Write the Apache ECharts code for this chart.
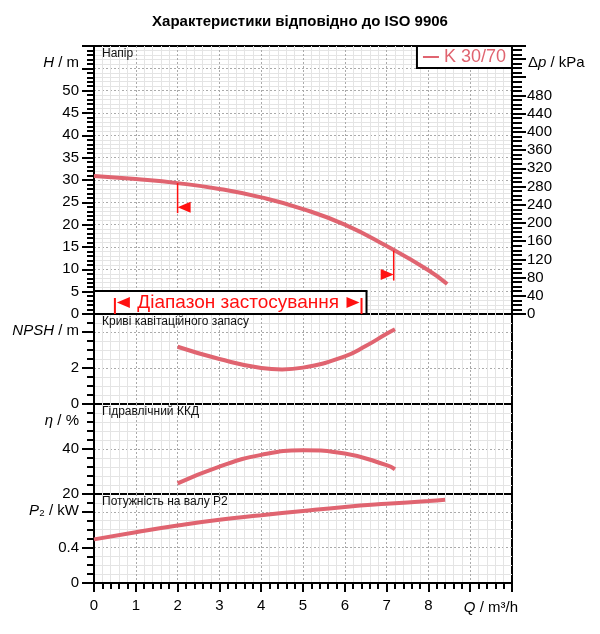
<!DOCTYPE html>
<html>
<head>
<meta charset="utf-8">
<script src="https://cdn.jsdelivr.net/npm/echarts@6/dist/echarts.min.js"></script>
<style>
  html, body { margin: 0; padding: 0; background: #fff; }
  #chart { width: 600px; height: 634px; }
</style>
</head>
<body>
<div id="chart"></div>
<script>
// flow Q / m3/h for each curve
var headQ = [0, 1, 2, 3, 4, 5, 6, 7, 8, 8.45];
var head = [30.9, 30.2, 29.3, 28.0, 26.1, 23.5, 20.0, 15.2, 9.8, 6.7];

var npshQ = [2, 3, 4, 4.5, 5, 6, 6.5, 7, 7.2];
var npsh = [3.18, 2.5, 2.0, 1.92, 2.02, 2.65, 3.22, 3.9, 4.15];

var effQ = [2, 3, 4, 5, 6, 7, 7.2];
var eff = [24.7, 32.2, 37.4, 39.4, 38.0, 32.8, 31.0];

var powerQ = [0, 1, 2, 3, 4, 5, 6, 7, 8, 8.4];
var power = [0.49, 0.57, 0.645, 0.71, 0.76, 0.81, 0.855, 0.89, 0.92, 0.935];

// application range and duty limit markers
var appRange = [0.5, 6.4];
var rangeLabel = 'Діапазон застосування';
var markerQ = [2.0, 7.17];
var markerH = [29.3, 14.2];
var markerDir = [-1, 1];

var seriesName = 'K 30/70';
var panelTitles = ['Напір', 'Криві кавітаційного запасу', 'Гідравлічний ККД', 'Потужність на валу P2'];

var FONT = '"Liberation Sans", Arial, sans-serif';
var CURVE = '#e06470';
var RED = '#ff1010';

var panels = [
  { top: 46, height: 268 },
  { top: 314, height: 90 },
  { top: 404, height: 90 },
  { top: 494, height: 89 }
];

var myChart = echarts.init(document.getElementById('chart'));

function xAxisFor(i) {
  var last = i === panels.length - 1;
  return {
    type: 'value', gridIndex: i, min: 0, max: 10, interval: 1,
    axisLine: { show: last, lineStyle: { color: '#000', width: 2 } },
    axisTick: { show: last, length: 9, lineStyle: { color: '#000', width: 2 } },
    minorTick: { show: last, splitNumber: 5, length: 6, lineStyle: { color: '#000', width: 2 } },
    axisLabel: {
      show: last, margin: 15, fontSize: 15, color: '#000', fontFamily: FONT,
      formatter: function (v) { return v <= 8 ? String(v) : ''; }
    },
    splitLine: { show: true, showMinLine: false, showMaxLine: false, lineStyle: { color: '#aaa', type: [2, 2], width: 1 } },
    minorSplitLine: { show: true, lineStyle: { color: '#e4e4e4', width: 1 } },
    name: last ? '{i|Q} / m³/h' : '',
    nameLocation: 'end', nameGap: 6, nameMoveOverlap: false,
    nameTextStyle: {
      align: 'right', verticalAlign: 'top', padding: [17, 0, 0, 0],
      fontSize: 15, color: '#000', fontFamily: FONT,
      rich: { i: { fontStyle: 'italic', fontSize: 15, fontFamily: FONT, color: '#000' } }
    }
  };
}

function yAxisFor(i, min, max, interval, split, maxLabel, name, right) {
  return {
    type: 'value', gridIndex: i, min: min, max: max, interval: interval,
    position: right ? 'right' : 'left',
    axisLine: { show: true, onZero: false, lineStyle: { color: '#000', width: 2 } },
    axisTick: { show: true, length: right ? 14 : 12, lineStyle: { color: '#000', width: 2 } },
    minorTick: { show: true, splitNumber: split, length: right ? 10 : 7, lineStyle: { color: '#000', width: 2 } },
    axisLabel: {
      margin: 15, fontSize: 15, color: '#000', fontFamily: FONT,
      formatter: function (v) { return v <= maxLabel + 1e-9 ? String(+v.toFixed(2)) : ''; }
    },
    splitLine: right ? { show: false } : { show: true, showMinLine: false, showMaxLine: false, lineStyle: { color: '#aaa', type: [2, 2], width: 1 } },
    minorSplitLine: { show: !right, lineStyle: { color: '#e4e4e4', width: 1 } },
    name: name,
    nameLocation: 'end', nameGap: -17, nameMoveOverlap: false,
    nameTextStyle: {
      align: right ? 'left' : 'right', verticalAlign: 'middle',
      padding: right ? [0, 0, 0, 16] : [0, 15, 0, 0],
      fontSize: 15, color: '#000', fontFamily: FONT,
      rich: { i: { fontStyle: 'italic', fontSize: 15, fontFamily: FONT, color: '#000' } }
    }
  };
}

function curve(i, qs, vs) {
  return {
    name: seriesName, type: 'line', xAxisIndex: i, yAxisIndex: i === 0 ? 0 : i + 1,
    data: qs.map(function (q, k) { return [q, vs[k]]; }),
    smooth: 0.5, showSymbol: false, symbol: 'none', silent: true, z: 3,
    lineStyle: { color: CURVE, width: 4 }, itemStyle: { color: CURVE }
  };
}

var option = {
  animation: false,
  backgroundColor: '#fff',
  title: {
    text: 'Характеристики відповідно до ISO 9906', left: 'center', top: 9,
    textStyle: { fontSize: 15, fontWeight: 'bold', color: '#000', fontFamily: FONT }
  },
  legend: {
    data: [seriesName], right: 88, top: 46, selectedMode: false,
    icon: 'rect', itemWidth: 16, itemHeight: 2, itemGap: 6,
    padding: [2, 6, 2, 6], borderColor: '#000', borderWidth: 2, backgroundColor: '#fff',
    textStyle: { color: CURVE, fontSize: 18, fontFamily: FONT, padding: [0, 0, 0, 0] }
  },
  grid: panels.map(function (p) {
    return { left: 94, right: 88, top: p.top, height: p.height, show: true, borderColor: '#000', borderWidth: 2, backgroundColor: '#fff' };
  }),
  xAxis: panels.map(function (p, i) { return xAxisFor(i); }),
  yAxis: [
    yAxisFor(0, 0, 60, 5, 5, 50, '{i|H} / m', false),
    yAxisFor(0, 0, 60 * 9.81, 40, 4, 480, 'Δ{i|p} / kPa', true),
    yAxisFor(1, 0, 5, 2, 4, 2, '{i|NPSH} / m', false),
    yAxisFor(2, 20, 60, 20, 5, 40, '{i|η} / %', false),
    yAxisFor(3, 0, 1, 0.4, 4, 0.4, '{i|P}₂ / kW', false)
  ],
  graphic: panels.map(function (p, i) {
    return {
      type: 'text', left: 102, top: p.top + 2, silent: true, z: 20,
      style: { text: panelTitles[i], fontSize: 12, fill: '#111', fontFamily: FONT }
    };
  }),
  series: [
    curve(0, headQ, head),
    curve(1, npshQ, npsh),
    curve(2, effQ, eff),
    curve(3, powerQ, power),
    {
      name: 'range', type: 'custom', xAxisIndex: 0, yAxisIndex: 0, silent: true, z: 5,
      data: [[appRange[0], appRange[1]]],
      renderItem: function (params, api) {
        var origin = api.coord([0, 0]);
        var a = api.coord([api.value(0), 0]);
        var b = api.coord([api.value(1), 0]);
        var bottom = origin[1];
        var top = bottom - 23;
        var yc = bottom - 11.5;
        return {
          type: 'group',
          children: [
            { type: 'rect', shape: { x: origin[0], y: top, width: b[0] + 5 - origin[0], height: bottom - top },
              style: { fill: '#fff', stroke: '#000', lineWidth: 2 } },
            { type: 'line', shape: { x1: a[0], y1: bottom, x2: a[0], y2: bottom - 16 }, style: { stroke: RED, lineWidth: 2 } },
            { type: 'polygon', shape: { points: [[a[0] + 2, yc], [a[0] + 15, yc - 5.5], [a[0] + 15, yc + 5.5]] }, style: { fill: RED } },
            { type: 'line', shape: { x1: b[0], y1: bottom, x2: b[0], y2: bottom - 16 }, style: { stroke: RED, lineWidth: 2 } },
            { type: 'polygon', shape: { points: [[b[0] - 2, yc], [b[0] - 15, yc - 5.5], [b[0] - 15, yc + 5.5]] }, style: { fill: RED } },
            { type: 'text', x: (a[0] + b[0]) / 2, y: yc,
              style: { text: rangeLabel, fill: RED, fontSize: 19, fontFamily: FONT, align: 'center', verticalAlign: 'middle' } }
          ]
        };
      }
    },
    {
      name: 'limits', type: 'custom', xAxisIndex: 0, yAxisIndex: 0, silent: true, z: 4,
      data: markerQ.map(function (q, k) { return [q, markerH[k], markerDir[k]]; }),
      renderItem: function (params, api) {
        var p = api.coord([api.value(0), api.value(1)]);
        var dir = api.value(2);
        var yc = p[1] + 24;
        return {
          type: 'group',
          children: [
            { type: 'line', shape: { x1: p[0], y1: p[1], x2: p[0], y2: p[1] + 30 }, style: { stroke: RED, lineWidth: 1.5 } },
            { type: 'polygon', shape: { points: [[p[0], yc], [p[0] - dir * 13, yc - 5.5], [p[0] - dir * 13, yc + 5.5]] }, style: { fill: RED } }
          ]
        };
      }
    }
  ]
};

myChart.setOption(option);
</script>
</body>
</html>
